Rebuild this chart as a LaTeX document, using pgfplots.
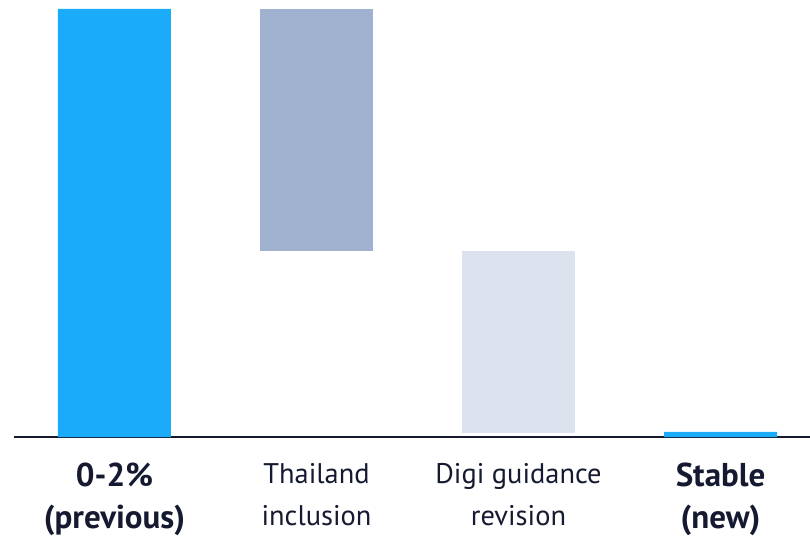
\documentclass[border=0pt]{standalone}
\usepackage{pgfplots}
\pgfplotsset{compat=1.18}
\usepackage{fontspec}
\setmainfont{PT Sans}
\definecolor{cBlue}{HTML}{1AABFA}
\definecolor{cGrey}{HTML}{9FB1CF}
\definecolor{cLight}{HTML}{DDE3EE}
\definecolor{cNavy}{HTML}{151A30}
\newcommand{\bl}[1]{{\fontsize{16.5}{21}\selectfont\bfseries #1}}
\begin{document}
\begin{tikzpicture}
\useasboundingbox (0,0) rectangle (405pt,268.5pt);
\begin{axis}[
  at={(7pt,50pt)}, anchor=south west,
  width=398pt, height=218.5pt, scale only axis,
  ybar stacked, bar width=56.5pt,
  xmin=-0.4975, xmax=3.443,
  ymin=0, ymax=102.1,
  axis x line*=bottom, axis y line=none,
  x axis line style={cNavy, line width=1.2pt, -},
  xtick={0,1,2,3}, major tick length=0pt,
  xticklabels={{\bl{0-2\%}\\\bl{(previous)}},{Thailand\\inclusion},{Digi guidance\\revision},{\bl{Stable}\\\bl{(new)}}},
  xticklabel style={align=center, font=\fontsize{14.2}{21}\selectfont, text=cNavy, yshift=-9.5pt},
  ytick=\empty,
  clip=false,
]
\addplot[draw=none, fill=none] coordinates {(0,0) (1,43.5) (2,1.0) (3,0)};
\addplot[draw=none, fill=cBlue] coordinates {(0,100) (1,0) (2,0) (3,1.2)};
\addplot[draw=none, fill=cGrey] coordinates {(0,0) (1,56.5) (2,0) (3,0)};
\addplot[draw=none, fill=cLight] coordinates {(0,0) (1,0) (2,42.5) (3,0)};
\end{axis}
\end{tikzpicture}
\end{document}
